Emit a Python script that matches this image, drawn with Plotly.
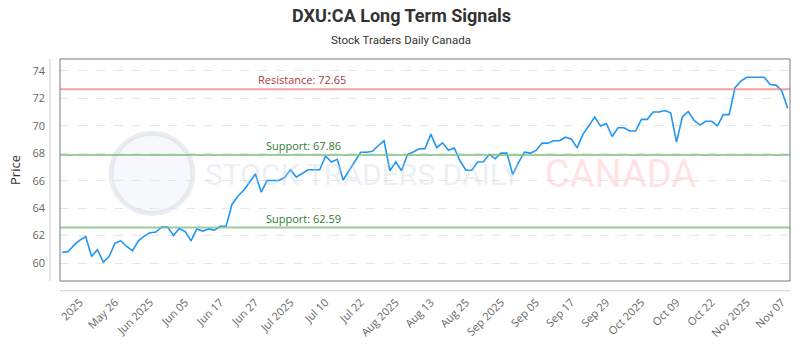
import plotly.graph_objects as go

# ---- data ----
prices = [
    60.78, 60.85, 61.31, 61.67, 61.92, 60.48, 60.98, 60.07, 60.48, 61.45,
    61.62, 61.21, 60.90, 61.62, 61.97, 62.21, 62.26, 62.63, 62.63, 62.02,
    62.52, 62.30, 61.62, 62.49, 62.33, 62.49, 62.40, 62.68, 62.68, 64.27,
    64.87, 65.30, 65.89, 66.48, 65.17, 66.01, 66.01, 66.01, 66.23, 66.79,
    66.26, 66.54, 66.79, 66.79, 66.79, 67.79, 67.36, 67.55, 66.05, 66.72,
    67.43, 68.07, 68.07, 68.14, 68.54, 68.90, 66.72, 67.36, 66.72, 67.90,
    68.09, 68.31, 68.33, 69.38, 68.40, 68.75, 68.21, 68.38, 67.43, 66.76,
    66.76, 67.36, 67.38, 67.92, 67.59, 68.00, 68.00, 66.45, 67.33, 68.07,
    68.00, 68.20, 68.73, 68.73, 68.90, 68.90, 69.16, 69.04, 68.38, 69.37,
    69.97, 70.63, 69.97, 70.16, 69.21, 69.85, 69.85, 69.61, 69.61, 70.46,
    70.46, 70.99, 70.99, 71.10, 70.94, 68.80, 70.63, 71.03, 70.39, 70.04,
    70.32, 70.32, 69.99, 70.80, 70.80, 72.77, 73.24, 73.52, 73.52, 73.52,
    73.52, 73.00, 72.95, 72.53, 71.27,
]
tick_labels = [
    "2025", "May 26", "Jun 2025", "Jun 05", "Jun 17", "Jun 27", "Jul 2025",
    "Jul 10", "Jul 22", "Aug 2025", "Aug 13", "Aug 25", "Sep 2025", "Sep 05",
    "Sep 17", "Sep 29", "Oct 2025", "Oct 09", "Oct 22", "Nov 2025", "Nov 07",
]
tick_first, tick_step = 3, 6
resistance = 72.65
supports = [67.86, 62.59]
title = "DXU:CA Long Term Signals"
subtitle = "Stock Traders Daily Canada"

x = list(range(len(prices)))
tickvals = [tick_first + tick_step * i for i in range(len(tick_labels))]

PW, PH = 730, 227  # plot area size in px

fig = go.Figure()
fig.add_trace(go.Scatter(x=x, y=prices, mode="lines",
                         line=dict(color="#2196f3", width=1.6),
                         hoverinfo="x+y", showlegend=False))

# level lines
fig.add_hline(y=resistance, line=dict(color="rgba(240,120,120,0.7)", width=2))
for s in supports:
    fig.add_hline(y=s, line=dict(color="rgba(120,190,120,0.75)", width=2))

lab_font = "Open Sans, DejaVu Sans, sans-serif"
fig.add_annotation(x=33.1, y=resistance, xref="x", yref="y", xanchor="left",
                   yanchor="bottom", text=f"Resistance: {resistance:.2f}",
                   showarrow=False, font=dict(family=lab_font, size=11, color="#b03a3a"))
for s in supports:
    fig.add_annotation(x=34.5, y=s, xref="x", yref="y", xanchor="left",
                       yanchor="bottom", text=f"Support: {s:.2f}",
                       showarrow=False, font=dict(family=lab_font, size=11, color="#2e7d32"))

# watermark
wm_font = "Roboto, sans-serif"
fig.add_annotation(x=(203 - 60) / PW, y=1 - (177 - 59) / PH, xref="paper", yref="paper",
                   xanchor="left", yanchor="middle", text="STOCK TRADERS DAILY", showarrow=False,
                   font=dict(family=wm_font, size=30, color="rgba(195,205,222,0.32)"))
fig.add_annotation(x=(543 - 60) / PW, y=1 - (177 - 59) / PH, xref="paper", yref="paper",
                   xanchor="left", yanchor="middle", text="CANADA", showarrow=False,
                   font=dict(family=wm_font, size=38, color="rgba(255,175,175,0.35)"))
cx, cy, r = (152 - 60) / PW, 1 - (176 - 59) / PH, 41
fig.add_shape(type="circle", xref="paper", yref="paper",
              x0=cx - r / PW, x1=cx + r / PW, y0=cy - r / PH, y1=cy + r / PH,
              line=dict(color="rgba(195,205,222,0.35)", width=5),
              fillcolor="rgba(215,222,235,0.22)", layer="below")

# title and subtitle
fig.add_annotation(x=(401 - 60) / PW, y=1 + (59 - 15) / PH, xref="paper", yref="paper",
                   xanchor="center", yanchor="middle",
                   text=f"<b>{title}</b>", showarrow=False,
                   font=dict(family="Roboto, sans-serif", size=18, color="#333333"))
fig.add_annotation(x=(401 - 60) / PW, y=1 + (59 - 40) / PH, xref="paper", yref="paper",
                   xanchor="center", yanchor="middle",
                   text=subtitle, showarrow=False,
                   font=dict(family="Roboto, sans-serif", size=11.5, color="#333333"))

# plot border and offset axis lines
fig.add_shape(type="rect", xref="paper", yref="paper", x0=0, x1=1, y0=0, y1=1,
              line=dict(color="#7a7a7a", width=1))
fig.add_shape(type="line", xref="paper", yref="paper", x0=0, x1=1,
              y0=-10 / PH, y1=-10 / PH, line=dict(color="#cccccc", width=1))
fig.add_shape(type="line", xref="paper", yref="paper", x0=-10 / PW, x1=-10 / PW,
              y0=0, y1=1, line=dict(color="#cccccc", width=1))

fig.update_layout(
    width=800, height=350,
    margin=dict(l=60, r=10, t=59, b=64),
    paper_bgcolor="white", plot_bgcolor="white",
    xaxis=dict(range=[-0.4, 124.4], tickmode="array", tickvals=tickvals,
               ticktext=tick_labels, tickangle=-45, showgrid=False, zeroline=False,
               showline=False, ticks="", ticklabelstandoff=12,
               tickfont=dict(family="Open Sans, sans-serif", size=11, color="#666666")),
    yaxis=dict(range=[58.7, 74.85], tickmode="array", tickvals=list(range(60, 75, 2)),
               showgrid=True, gridcolor="#e6e6e6", griddash="dash", zeroline=False,
               showline=False, ticks="", ticklabelstandoff=14,
               tickfont=dict(family="Open Sans, sans-serif", size=11, color="#666666"),
               title=dict(text="Price", standoff=8,
                          font=dict(family="Open Sans, sans-serif", size=13, color="#333333"))),
)

fig.write_html("out.html")
